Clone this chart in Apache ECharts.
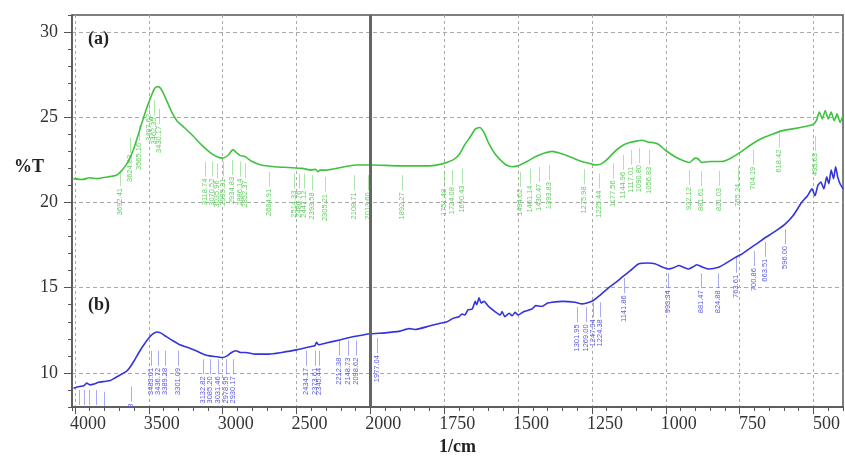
<!DOCTYPE html>
<html>
<head>
<meta charset="utf-8">
<script src="https://cdn.jsdelivr.net/npm/echarts@6/dist/echarts.min.js"></script>
<style>
  html, body { margin: 0; padding: 0; background: #fff; }
  #main { width: 845px; height: 461px; }
</style>
</head>
<body>
<div id="main"></div>
<script>
// wavenumber (1/cm) and %T
var greenWn = [4010, 3950, 3900, 3850, 3780, 3720, 3680, 3640, 3600, 3560, 3520, 3490, 3460, 3440, 3420, 3390,
  3350, 3310, 3260, 3200, 3140, 3080, 3030, 3000, 2960, 2930, 2910, 2880, 2850, 2800, 2740, 2650, 2550, 2460,
  2400, 2370, 2355, 2340, 2300, 2200, 2100, 2000, 1900, 1800, 1760, 1720, 1700, 1680, 1660, 1645, 1630, 1615,
  1600, 1580, 1560, 1540, 1520, 1500, 1470, 1440, 1410, 1385, 1360, 1320, 1284, 1260, 1240, 1220, 1200, 1172,
  1150, 1125, 1100, 1081, 1060, 1040, 1024, 1000, 970, 940, 920, 900, 890, 878, 850, 811, 780, 743, 710, 676,
  640, 608, 560, 517, 500, 490, 480, 470, 460, 450, 440, 430, 420, 410, 400];
var greenT = [21.4, 21.35, 21.45, 21.4, 21.5, 21.6, 21.9, 22.4, 23.2, 24.3, 25.4, 26.1, 26.7, 26.8, 26.7, 26.2,
  25.4, 24.8, 24.4, 23.9, 23.35, 22.9, 22.65, 22.6, 22.8, 23.1, 22.95, 22.75, 22.7, 22.4, 22.2, 22.1, 22.05, 22.0,
  21.9, 21.95, 21.8, 21.9, 21.9, 22.05, 22.2, 22.2, 22.15, 22.15, 22.25, 22.5, 22.8, 23.4, 23.9, 24.3, 24.4, 24.1,
  23.5, 22.9, 22.5, 22.2, 22.1, 22.15, 22.4, 22.7, 22.9, 23.0, 22.9, 22.65, 22.4, 22.3, 22.2, 22.25, 22.5, 23.0,
  23.3, 23.5, 23.6, 23.65, 23.55, 23.5, 23.4, 23.05, 22.7, 22.45, 22.35, 22.6, 22.55, 22.35, 22.4, 22.4, 22.6, 23.0, 23.4, 23.75,
  24.0, 24.2, 24.35, 24.5, 24.6, 24.8, 25.3, 24.9, 25.4, 24.9, 25.3, 24.8, 25.2, 24.7, 25.1];

var blueWn = [4010, 3970, 3940, 3920, 3900, 3870, 3840, 3800, 3760, 3730, 3700, 3680, 3650, 3630, 3600, 3560,
  3530, 3500, 3470, 3445, 3420, 3385, 3340, 3290, 3240, 3180, 3130, 3088, 3040, 3000, 2970, 2940, 2912, 2880,
  2845, 2780, 2685, 2600, 2500, 2400, 2375, 2365, 2350, 2300, 2200, 2100, 2000, 1950, 1900, 1868, 1850, 1800,
  1767, 1740, 1720, 1700, 1690, 1680, 1670, 1655, 1645, 1640, 1632, 1625, 1615, 1600, 1578, 1560, 1554, 1545,
  1530, 1520, 1510, 1500, 1480, 1453, 1440, 1420, 1400, 1385, 1350, 1307, 1284, 1250, 1220, 1193, 1170, 1149,
  1120, 1091, 1060, 1037, 1010, 990, 970, 956, 940, 922, 905, 895, 875, 855, 821, 790, 767, 740, 720, 690, 666,
  630, 598, 570, 540, 520, 505, 495, 485, 475, 465, 455, 448, 440, 432, 425, 418, 410, 400];
var blueT = [9.1, 9.2, 9.25, 9.4, 9.3, 9.35, 9.45, 9.5, 9.55, 9.7, 9.85, 9.95, 10.1, 10.3, 10.7, 11.3,
  11.7, 12.05, 12.3, 12.4, 12.35, 12.15, 11.9, 11.65, 11.5, 11.3, 11.1, 11.0, 10.95, 10.9, 11.0, 11.2, 11.3, 11.2,
  11.2, 11.1, 11.1, 11.2, 11.35, 11.55, 11.6, 11.8, 11.65, 11.75, 11.95, 12.15, 12.3, 12.35, 12.45, 12.6, 12.55, 12.75,
  12.9, 13.0, 13.2, 13.3, 13.45, 13.4, 13.7, 13.75, 14.2, 14.0, 14.4, 14.1, 14.2, 13.9, 13.6, 13.4, 13.6, 13.3,
  13.5, 13.35, 13.55, 13.4, 13.6, 13.75, 13.95, 13.9, 14.1, 14.15, 14.2, 14.15, 14.05, 14.2, 14.6, 15.0, 15.3, 15.6,
  16.0, 16.4, 16.45, 16.4, 16.2, 16.1, 16.2, 16.3, 16.2, 16.1, 16.25, 16.35, 16.2, 16.1, 16.2, 16.5, 16.75, 17.0, 17.25, 17.6, 17.9,
  18.3, 18.7, 19.2, 20.0, 20.4, 20.8, 20.4, 21.0, 21.2, 20.8, 21.5, 21.1, 21.9, 21.4, 22.1, 21.5, 21.1, 20.8];

// peak labels: wavenumber text and the %T where the label hangs from
var greenPeaks = ['3692.41', '3624.83', '3565.16', '3497.62', '3462.35', '3430.17', '3118.74', '3070.52', '3035.96',
  '2995.31', '2934.83', '2886.14', '2852.37', '2684.91', '2514.33', '2480.76', '2447.12', '2393.58', '2305.21',
  '2108.71', '2013.60', '1892.27', '1751.48', '1724.08', '1690.43', '1494.62', '1461.14', '1430.47', '1393.83',
  '1275.98', '1225.44', '1177.56', '1144.96', '1117.01', '1090.80', '1056.83', '922.12', '881.61', '821.03',
  '755.24', '704.19', '618.42', '493.63'];
var greenPeakT = [21.85, 23.8, 24.5, 26.2, 26.0, 25.5, 22.4, 22.4, 22.3, 22.4, 22.5, 22.4, 22.3, 21.8, 21.7, 21.7,
  21.7, 21.6, 21.5, 21.6, 21.6, 21.6, 21.8, 21.9, 22.0, 21.8, 22.0, 22.1, 22.2, 21.95, 21.7, 22.3, 22.8, 23.1,
  23.2, 23.1, 21.9, 21.85, 21.85, 22.1, 23.1, 24.1, 23.9];

var bluePeaks = ['3975.41', '3942.18', '3908.65', '3860.27', '3806.12', '3618.38', '3483.01', '3436.72', '3389.28',
  '3301.09', '3132.82', '3085.20', '3031.46', '2978.95', '2930.17', '2434.17', '2373.61', '2345.44', '2212.38',
  '2148.73', '2098.62', '1977.04', '1301.95', '1269.00', '1247.94', '1224.38', '1141.86', '993.34', '881.47',
  '824.88', '763.61', '700.86', '663.51', '596.00'];
var bluePeakT = [9.0, 9.0, 9.0, 9.0, 8.9, 9.2, 11.3, 11.3, 11.3, 11.3, 10.8, 10.8, 10.8, 10.8, 10.8, 11.3, 11.3,
  11.3, 11.9, 11.9, 11.9, 12.05, 13.85, 13.85, 14.15, 14.15, 15.55, 15.85, 15.85, 15.85, 16.75, 17.15, 17.7, 18.45];

var majorX = [500, 750, 1000, 1250, 1500, 1750, 2000, 2250, 2500, 2750, 3000];
var majorY = [10, 15, 20, 25, 30];

// above 2000 1/cm the instrument plots at half scale
function toAxis(w) { return w <= 2000 ? w : 2000 + (w - 2000) / 2; }
function fromAxis(p) { return p <= 2000 ? p : 2000 + (p - 2000) * 2; }

function pairs(ws, ts) { return ws.map(function (w, i) { return [toAxis(w), ts[i]]; }); }
function peakPairs(labels, ts) { return labels.map(function (s, i) { return [toAxis(parseFloat(s)), ts[i]]; }); }

function peakLabels(texts, color) {
  return function (params, api) {
    var pt = api.coord([api.value(0), api.value(1)]);
    return {
      type: 'text',
      x: pt[0], y: pt[1],
      rotation: Math.PI / 2,
      style: {
        text: texts[params.dataIndex] + ' \u2014\u2014',
        fill: color,
        fontSize: 7.5,
        fontFamily: 'Liberation Sans',
        align: 'right',
        verticalAlign: 'middle'
      }
    };
  };
}

var serif = 'Liberation Serif';
var axisColor = '#555';

var myChart = echarts.init(document.getElementById('main'));

var option = {
  animation: false,
  backgroundColor: '#fff',
  grid: { left: 72, right: 2, top: 15, bottom: 39, show: true, borderColor: axisColor, borderWidth: 1.5 },
  xAxis: [{
    type: 'value', min: 400, max: 3010, inverse: true, position: 'bottom',
    name: '1/cm', nameLocation: 'middle', nameGap: 31,
    nameTextStyle: { fontFamily: serif, fontSize: 18, fontWeight: 'bold', color: '#222' },
    axisLine: { show: true, onZero: false, lineStyle: { color: axisColor, width: 1.5 } },
    axisTick: { show: true, customValues: majorX, length: 7, lineStyle: { color: axisColor } },
    axisLabel: {
      customValues: majorX, fontFamily: serif, fontSize: 18, color: '#333', margin: 8,
      padding: [0, 0, 0, 26],
      formatter: function (v) { return String(fromAxis(v)); }
    },
    splitLine: { show: true, lineStyle: { color: '#aaa', type: [3, 3] } }
  }, {
    type: 'value', min: 400, max: 3010, interval: 50, inverse: true, position: 'bottom',
    axisLine: { show: false, onZero: false },
    axisTick: { show: true, length: 4, lineStyle: { color: axisColor } },
    axisLabel: { show: false },
    splitLine: { show: false }
  }],
  yAxis: [{
    type: 'value', min: 8, max: 31, position: 'left',
    axisLine: { show: true, onZero: false, lineStyle: { color: axisColor, width: 1.5 } },
    axisTick: { show: true, customValues: majorY, length: 8, lineStyle: { color: axisColor } },
    axisLabel: { customValues: majorY, fontFamily: serif, fontSize: 18, color: '#333', margin: 14 },
    splitLine: { show: true, lineStyle: { color: '#aaa', type: [4, 3] } }
  }, {
    type: 'value', min: 8, max: 31, interval: 1, position: 'left',
    axisLine: { show: false, onZero: false },
    axisTick: { show: true, length: 4, lineStyle: { color: axisColor } },
    axisLabel: { show: false },
    splitLine: { show: false }
  }],
  graphic: [
    { type: 'text', left: 88, top: 30, style: { text: '(a)', font: 'bold 18px "Liberation Serif"', fill: '#222' } },
    { type: 'text', left: 88, top: 296, style: { text: '(b)', font: 'bold 18px "Liberation Serif"', fill: '#222' } },
    { type: 'text', left: 14, top: 158, style: { text: '%T', font: 'bold 18px "Liberation Serif"', fill: '#222' } }
  ],
  series: [{
    name: 'a', type: 'line', data: pairs(greenWn, greenT), showSymbol: false, smooth: 0.2,
    lineStyle: { color: '#3fc23f', width: 1.6 },
    markLine: {
      silent: true, symbol: 'none', label: { show: false },
      lineStyle: { color: '#666', width: 3, type: 'solid' },
      data: [{ xAxis: 2000 }]
    }
  }, {
    name: 'b', type: 'line', data: pairs(blueWn, blueT), showSymbol: false, smooth: 0.2,
    lineStyle: { color: '#3434dc', width: 1.6 }
  }, {
    type: 'custom', clip: true, data: peakPairs(greenPeaks, greenPeakT),
    renderItem: peakLabels(greenPeaks, '#62cf62')
  }, {
    type: 'custom', clip: true, data: peakPairs(bluePeaks, bluePeakT),
    renderItem: peakLabels(bluePeaks, '#5a5ae4')
  }]
};

myChart.setOption(option);

window.onresize = () => {
  myChart.resize()
}
</script>
</body>
</html>
